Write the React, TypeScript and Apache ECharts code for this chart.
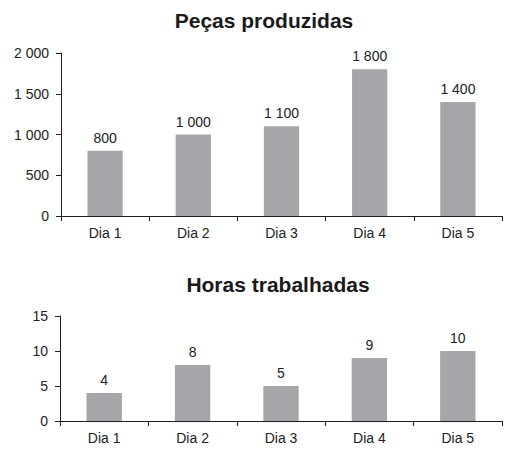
import React, { useEffect, useRef } from "react";
import * as echarts from "echarts";

const categories = ["Dia 1", "Dia 2", "Dia 3", "Dia 4", "Dia 5"];
const pecas = [800, 1000, 1100, 1800, 1400];
const horas = [4, 8, 5, 9, 10];
const title1 = "Peças produzidas";
const title2 = "Horas trabalhadas";

const fmt = (v: number) => String(v).replace(/\B(?=(\d{3})+(?!\d))/g, " ");

const FONT = "'Liberation Sans', Arial, sans-serif";
const AXIS = "#1e1e1e";
const TEXT = "#222222";
const BAR = "#a6a6aa";

export default function App() {
  const ref = useRef<HTMLDivElement>(null);
  useEffect(() => {
    document.body.style.margin = "0";
    const chart = echarts.init(ref.current!, null, { renderer: "svg" });
    const xAxisBase = (gridIndex: number) => ({
      type: "category" as const,
      gridIndex,
      data: categories,
      boundaryGap: true,
      axisLine: { lineStyle: { color: AXIS, width: 1 } },
      axisTick: { show: true, alignWithLabel: false, length: 5, lineStyle: { color: AXIS } },
      axisLabel: { color: TEXT, fontSize: 14, fontFamily: FONT, margin: 10 },
    });
    const yAxisBase = (gridIndex: number, max: number, interval: number, f: (v: number) => string) => ({
      type: "value" as const,
      gridIndex,
      min: 0,
      max,
      interval,
      axisLine: { show: true, lineStyle: { color: AXIS, width: 1 } },
      axisTick: { show: true, length: 5, lineStyle: { color: AXIS } },
      splitLine: { show: false },
      axisLabel: { color: TEXT, fontSize: 14, fontFamily: FONT, margin: 12, formatter: f },
    });
    const label = {
      show: true,
      position: "top" as const,
      distance: 6,
      color: TEXT,
      fontSize: 14,
      fontFamily: FONT,
      formatter: (p: any) => fmt(p.value),
    };
    chart.setOption({
      animation: false,
      backgroundColor: "#ffffff",
      title: [
        {
          text: title1,
          left: 259,
          top: 5,
          textAlign: "center",
          textStyle: { fontSize: 21, fontWeight: "bold", color: "#1a1a1a", fontFamily: FONT },
        },
        {
          text: title2,
          left: 273,
          top: 269,
          textAlign: "center",
          textStyle: { fontSize: 21, fontWeight: "bold", color: "#1a1a1a", fontFamily: FONT },
        },
      ],
      grid: [
        { left: 61, top: 53, width: 441, height: 163 },
        { left: 60, top: 316, width: 442, height: 105 },
      ],
      xAxis: [xAxisBase(0), xAxisBase(1)],
      yAxis: [
        yAxisBase(0, 2000, 500, (v: number) => fmt(v)),
        yAxisBase(1, 15, 5, (v: number) => String(v)),
      ],
      series: [
        {
          type: "bar",
          xAxisIndex: 0,
          yAxisIndex: 0,
          data: pecas,
          barWidth: "40%",
          itemStyle: { color: BAR },
          label,
        },
        {
          type: "bar",
          xAxisIndex: 1,
          yAxisIndex: 1,
          data: horas,
          barWidth: "40%",
          itemStyle: { color: BAR },
          label,
        },
      ],
    });
    return () => chart.dispose();
  }, []);
  return <div ref={ref} style={{ width: 506, height: 450 }} />;
}
